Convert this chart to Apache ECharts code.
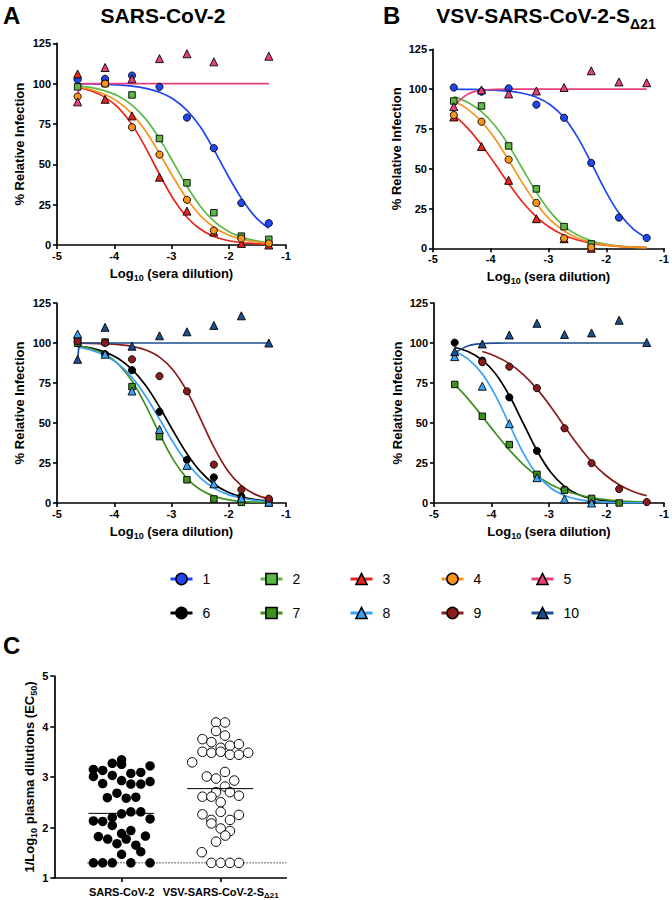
<!DOCTYPE html>
<html><head><meta charset="utf-8">
<script src="https://cdn.jsdelivr.net/npm/echarts@6/dist/echarts.min.js"></script>
<style>html,body{margin:0;padding:0;background:#fff}#c{width:672px;height:900px}</style>
</head><body><div id="c"></div>
<script>
// ---------- data ----------
const doseX = [-4.64, -4.16, -3.69, -3.21, -2.73, -2.26, -1.78, -1.30];
const fitX  = [-4.64, -4.4, -4.16, -3.93, -3.69, -3.45, -3.21, -2.97, -2.73, -2.5, -2.26, -2.02, -1.78, -1.54, -1.3];
const flatX = [-4.64, -4.62, -4.57, -1.30];

const sampleNames = ['1','2','3','4','5','6','7','8','9','10'];
const sampleColors = ['#1f45f5','#5cb946','#e8241d','#f7941d','#e8407f','#000000','#3f8f1f','#3aa3f5','#8b1c1c','#1c4f8f'];
const sampleSymbols = ['circle','rect','triangle','circle','triangle','circle','rect','triangle','circle','triangle'];

// Panel A top (SARS-CoV-2), samples 1-5
const aTopPts1 = [102.5, 103, 105, 98, 79, 60, 26, 13.5];
const aTopPts2 = [98, 100, 93, 66, 38.5, 20, 5.5, 3.5];
const aTopPts3 = [106, 90.3, 80, 42, 21, 8, 1, 0];
const aTopPts4 = [92, 100, 73, 56, 28, 9, 4, 1];
const aTopPts5 = [88.7, 110, 103, 115.5, 118.5, 113.5, null, 117];
const aTopFit1 = [99.9, 99.8, 99.6, 99.2, 98.5, 97.1, 94.7, 90.5, 83.4, 73.4, 59.1, 43.4, 29.0, 17.6, 10.3];
const aTopFit2 = [98.6, 97.5, 95.5, 92.3, 86.7, 78.0, 65.9, 51.3, 36.4, 24.2, 14.8, 8.7, 4.9, 2.7, 1.5];
const aTopFit3 = [97.6, 95.4, 91.5, 85.1, 74.6, 60.2, 43.8, 28.7, 17.2, 9.9, 5.3, 2.8, 1.5, 0.8, 0.4];
const aTopFit4 = [97.9, 96.2, 93.3, 88.7, 81.3, 70.5, 56.8, 42.0, 28.5, 18.4, 11.0, 6.4, 3.6, 2.0, 1.1];
const aTopFit5 = [88.7, 97, 100, 100];

// Panel A bottom, samples 6-10
const aLowPts6 = [103, 93, 83, 57, 27, 16, 4.2, 1.7];
const aLowPts7 = [99.8, 100.6, 72.7, 41.5, 14.5, 2.5, 0.4, 0];
const aLowPts8 = [105.6, 93, 70, 46, 23.5, 12, 3, 0.5];
const aLowPts9 = [101, 100, 89.8, 79.3, 69.8, 24, 8.3, 2.7];
const aLowPts10 = [89.8, 109.8, 98, 104.5, 107, 111, 117, 100];
const aLowFit6 = [98.3, 96.8, 94.3, 90.3, 83.5, 73.4, 60.0, 45.0, 30.8, 19.9, 11.9, 6.9, 3.9, 2.1, 1.2];
const aLowFit7 = [98.2, 96.4, 92.9, 86.8, 76.3, 61.0, 43.3, 27.1, 15.4, 8.4, 4.3, 2.1, 1.0, 0.5, 0.3];
const aLowFit8 = [97.5, 95.5, 92.1, 86.9, 78.5, 66.7, 52.5, 37.8, 25.1, 15.9, 9.4, 5.4, 3.1, 1.7, 0.9];
const aLowFit9 = [99.9, 99.8, 99.5, 99.0, 97.9, 95.6, 91.2, 83.0, 69.9, 53.1, 34.9, 20.3, 10.8, 5.4, 2.6];
const aLowFit10 = [89.8, 97, 100, 100];

// Panel B top (VSV-SARS-CoV-2-S d21), samples 1-5
const bTopPts1 = [101, 98.4, 100.5, 90.2, 82, 53.6, 19.3, 6.5];
const bTopPts2 = [92.5, 89.4, 64.3, 37.3, 13.6, 2.7, null, null];
const bTopPts3 = [82.5, 63.9, 42.7, 18.6, 6, 0, null, null];
const bTopPts4 = [83.7, 79.5, 55.7, 28.5, 6.3, 0.6, null, null];
const bTopPts5 = [89, 99.5, 97, 98.8, 101, 111.5, 104.5, 104];
const bTopFit1 = [99.9, 99.8, 99.7, 99.3, 98.7, 97.4, 94.9, 90.2, 82.1, 70.0, 53.7, 36.5, 22.1, 12.4, 6.5];
const bTopFit2 = [95.3, 91.7, 85.8, 77.1, 64.8, 50.0, 35.3, 22.9, 13.9, 8.3, 4.7, 2.6, 1.4, 0.8, 0.4];
const bTopFit3 = [83.6, 75.5, 64.9, 53.2, 40.7, 29.1, 19.8, 12.9, 8.2, 5.2, 3.2, 1.9, 1.2, 0.7, 0.4];
const bTopFit4 = [92.5, 87.4, 79.5, 69.0, 55.4, 41.0, 28.0, 17.9, 10.9, 6.5, 3.8, 2.1, 1.2, 0.7, 0.4];
const bTopFit5 = [89.5, 96.8, 99.3, 99.8, 100, 100, 100, 100, 100, 100, 100, 100, 100, 100, 100];

// Panel B bottom, samples 6-10
const bLowPts6 = [100.2, 89, 66, 32.6, 8.3, 0.5, null, null];
const bLowPts7 = [74.1, 54.2, 36.5, 17.9, 8, 2.9, 0, null];
const bLowPts8 = [91.5, 73, 49.6, 15.8, 2.5, 0, null, null];
const bLowPts9 = [null, 88, 85.2, 71.8, 46.7, 24.9, 8.7, 0.6];
const bLowPts10 = [94.6, 99.4, 105, 112.3, 105.3, 106.3, 114.2, 100.3];
const bLowFit6 = [97.2, 94.5, 89.3, 80.8, 67.2, 50.0, 32.8, 19.2, 10.4, 5.5, 2.8, 1.4, 0.7, 0.3, 0.2];
const bLowFit7 = [74.1, 64.8, 54.1, 43.6, 33.2, 24.2, 17.0, 11.6, 7.8, 5.3, 3.4, 2.2, 1.4, 0.9, 0.6];
const bLowFit8 = [94.9, 89.8, 80.7, 67.1, 49.2, 31.5, 17.9, 9.4, 4.7, 2.3, 1.1, 0.5, 0.3, 0.1, 0.1];
const bLowFit9 = [null, null, 94.7, 91.7, 87.1, 80.4, 71.3, 60.2, 47.9, 36.4, 25.8, 17.5, 11.4, 7.2, 4.5];
const bLowFit10 = [93.8, 98.3, 99.6, 99.9, 100, 100, 100, 100, 100, 100, 100, 100, 100, 100, 100];

// Panel C: EC50 scatter (x = jittered column position, y = value)
const cCategories = ['SARS-CoV-2', 'VSV-SARS-CoV-2-S'];
const cCatPos = [2.03, 5.02];
const cFilledX = [1.75,2.03,2.03,1.18,1.46,2.89, 1.18,1.75,2.31,2.61,1.46,2.03,2.31,2.61,2.89, 1.60,1.89,2.17,2.46,
  2.03,2.31,2.61,1.18,1.46,1.75,1.75,2.89, 1.33,1.61,1.89,2.03,2.17,2.31,2.46,2.75,2.61,2.03, 1.18,1.46,1.75,2.31,2.89];
const cFilledY = [3.27,3.34,3.25,3.15,3.13,3.22, 3.01,3.03,3.07,3.09,2.87,2.93,2.86,2.86,2.91, 2.59,2.68,2.58,2.60,
  2.27,2.31,2.31,2.13,2.12,2.20,2.04,2.17, 1.82,1.77,1.68,1.88,1.77,1.94,1.65,1.83,1.52,1.47, 1.3,1.3,1.3,1.3,1.3];
const cOpenX = [4.88,5.15,4.88,5.15,4.47,4.74,5.02,5.30,5.57,4.47,4.74,5.02,5.30,5.57,5.85,4.16,
  4.60,4.88,5.15,5.43,5.15,4.88,4.47,4.74,5.30,5.57,5.02,
  4.47,4.74,5.02,5.30,5.57,4.74,5.02,5.30,5.16,4.88,4.45, 4.74,5.02,5.30,5.57];
const cOpenY = [4.08,4.08,3.91,3.82,3.75,3.69,3.58,3.62,3.65,3.50,3.48,3.50,3.44,3.44,3.48,3.29,
  3.01,2.97,3.10,2.93,2.81,2.70,2.61,2.61,2.70,2.63,2.50,
  2.26,2.15,2.31,2.15,2.25,2.08,1.98,1.93,1.84,1.72,1.51, 1.3,1.3,1.3,1.3];
const cMeans = [2.28, 2.77];
const cMeanSpan = [[1.03, 3.01], [4.01, 6.0]];
const cLimit = 1.3;
const cLimitSpan = [1.0, 7.0];

// ---------- build ----------
const F = 'Liberation Sans, Arial, Helvetica, sans-serif';
function zip(xs, ys) { return xs.map((x, i) => [x, ys[i]]).filter(p => p[1] != null); }
function symSize(s) { return s === 'triangle' ? 8 : (s === 'rect' ? 6.5 : 7.2); }

const panels = [
  { g: 0, ids: [1,2,3,4,5], pts: [aTopPts1,aTopPts2,aTopPts3,aTopPts4,aTopPts5],
    fits: [aTopFit1,aTopFit2,aTopFit3,aTopFit4,aTopFit5], fx: [fitX,fitX,fitX,fitX,flatX] },
  { g: 1, ids: [1,2,3,4,5], pts: [bTopPts1,bTopPts2,bTopPts3,bTopPts4,bTopPts5],
    fits: [bTopFit1,bTopFit2,bTopFit3,bTopFit4,bTopFit5], fx: [fitX,fitX,fitX,fitX,fitX] },
  { g: 2, ids: [6,7,8,9,10], pts: [aLowPts6,aLowPts7,aLowPts8,aLowPts9,aLowPts10],
    fits: [aLowFit6,aLowFit7,aLowFit8,aLowFit9,aLowFit10], fx: [fitX,fitX,fitX,fitX,flatX] },
  { g: 3, ids: [6,7,8,9,10], pts: [bLowPts6,bLowPts7,bLowPts8,bLowPts9,bLowPts10],
    fits: [bLowFit6,bLowFit7,bLowFit8,bLowFit9,bLowFit10], fx: [fitX,fitX,fitX,fitX,fitX] }
];

const series = [];
// legend carrier series (first, so legend icons come from them)
sampleNames.forEach((n, i) => {
  series.push({ type: 'line', name: n, data: [], xAxisIndex: 0, yAxisIndex: 0,
    symbol: sampleSymbols[i], symbolSize: 10,
    itemStyle: { color: sampleColors[i], borderColor: '#000', borderWidth: 1.5 },
    lineStyle: { color: sampleColors[i], width: 3 } });
});
panels.forEach(p => {
  p.ids.forEach((id, k) => {
    const i = id - 1;
    const flat = p.fx[k] === flatX;
    series.push({ type: 'line', name: 'fit' + p.g + '-' + id, xAxisIndex: p.g, yAxisIndex: p.g,
      data: zip(p.fx[k], p.fits[k]), smooth: flat ? false : 0.35, showSymbol: false, symbol: 'none',
      lineStyle: { color: sampleColors[i], width: 1.7 }, z: 2, silent: true });
  });
  p.ids.forEach((id, k) => {
    const i = id - 1;
    series.push({ type: 'scatter', name: 'pts' + p.g + '-' + id, xAxisIndex: p.g, yAxisIndex: p.g,
      data: zip(doseX, p.pts[k]), symbol: sampleSymbols[i], symbolSize: symSize(sampleSymbols[i]),
      itemStyle: { color: sampleColors[i], borderColor: '#000', borderWidth: 0.9, opacity: 1 }, z: 3, silent: true });
  });
});
// panel C
series.push({ type: 'scatter', name: 'cFilled', xAxisIndex: 4, yAxisIndex: 4, data: zip(cFilledX, cFilledY),
  symbol: 'circle', symbolSize: 9.5, itemStyle: { color: '#000', opacity: 1 }, z: 3, silent: true });
series.push({ type: 'scatter', name: 'cOpen', xAxisIndex: 4, yAxisIndex: 4, data: zip(cOpenX, cOpenY),
  symbol: 'circle', symbolSize: 9.5, itemStyle: { color: '#fff', borderColor: '#000', borderWidth: 1, opacity: 1 }, z: 3, silent: true });
cMeans.forEach((m, i) => {
  series.push({ type: 'line', name: 'cMean' + i, xAxisIndex: 4, yAxisIndex: 4,
    data: [[cMeanSpan[i][0], m], [cMeanSpan[i][1], m]], symbol: 'none',
    lineStyle: { color: '#000', width: 1 }, z: 4, silent: true });
});
series.push({ type: 'line', name: 'cLimit', xAxisIndex: 4, yAxisIndex: 4,
  data: [[cLimitSpan[0], cLimit], [cLimitSpan[1], cLimit]], symbol: 'none',
  lineStyle: { color: '#000', width: 1, type: [1.2, 1.8] }, z: 1, silent: true });

const axLine = { onZero: false, lineStyle: { color: '#000', width: 1.7 } };
const axTick = { length: 4, lineStyle: { color: '#000', width: 1.6 } };
const axLab = { color: '#000', fontSize: 11, fontWeight: 'bold', fontFamily: F };
const nameRich = {
  m: { fontSize: 13, fontWeight: 'bold', fontFamily: F, color: '#000', lineHeight: 18 },
  s: { fontSize: 9, fontWeight: 'bold', fontFamily: F, color: '#000', lineHeight: 9, verticalAlign: 'bottom' }
};

const grids = [
  { left: 57, top: 43.3, width: 229, height: 201.7 },
  { left: 433, top: 49.3, width: 231, height: 199 },
  { left: 57, top: 303, width: 229, height: 200 },
  { left: 434, top: 303, width: 230, height: 200 },
  { left: 54.3, top: 676, width: 232, height: 202 }
].map(g => Object.assign({ outerBoundsMode: 'none', containLabel: false }, g));

const xAxes = [0,1,2,3].map(g => ({
  gridIndex: g, type: 'value', min: -5, max: -1, interval: 1,
  name: '{m|Log}{s|10}{m| (sera dilution)}', nameLocation: 'middle', nameGap: 19,
  nameTextStyle: { rich: nameRich },
  axisLine: axLine, axisTick: axTick, axisLabel: Object.assign({ margin: 5 }, axLab), splitLine: { show: false }
}));
xAxes.push({
  gridIndex: 4, type: 'value', min: 0, max: 7,
  axisLine: axLine,
  axisTick: Object.assign({ customValues: cCatPos }, axTick),
  axisLabel: Object.assign({ margin: 6, customValues: cCatPos,
    formatter: v => v < 3.5 ? '{m|' + cCategories[0] + '}' : '{m|' + cCategories[1] + '}{s|Δ21}',
    rich: {
      m: { fontSize: 11, fontWeight: 'bold', fontFamily: F, color: '#000', lineHeight: 15 },
      s: { fontSize: 8, fontWeight: 'bold', fontFamily: F, color: '#000', lineHeight: 8, verticalAlign: 'bottom' }
    } }, axLab),
  splitLine: { show: false }
});

const yAxes = [0,1,2,3].map(g => ({
  gridIndex: g, type: 'value', min: 0, max: 125, interval: 25,
  name: '% Relative Infection', nameLocation: 'middle', nameGap: (g % 2 === 0) ? 31 : 30,
  nameTextStyle: { fontSize: 13, fontWeight: 'bold', fontFamily: F, color: '#000' },
  axisLine: axLine, axisTick: axTick, axisLabel: Object.assign({ margin: 6 }, axLab), splitLine: { show: false }
}));
yAxes.push({
  gridIndex: 4, type: 'value', min: 1, max: 5, interval: 1,
  name: '{m|1/Log}{s|10}{m| plasma dilutions (EC}{s|50}{m|)}', nameLocation: 'middle', nameGap: 13,
  nameTextStyle: { rich: nameRich },
  axisLine: axLine, axisTick: axTick, axisLabel: Object.assign({ margin: 6 }, axLab), splitLine: { show: false }
});

const legLeft = [169, 259, 349, 440, 530];
const legTop = [572, 606];
const legends = sampleNames.map((n, i) => ({
  data: [n], left: legLeft[i % 5], top: legTop[Math.floor(i / 5)], orient: 'horizontal',
  itemWidth: 22, itemHeight: 14, selectedMode: false, padding: 0,
  itemStyle: { borderColor: '#000', borderWidth: 1.5 }, lineStyle: { width: 3 },
  textStyle: { fontSize: 14, color: '#000', fontFamily: F, padding: [0, 0, 0, 5] }
}));

const tstyle = (extra) => Object.assign({ fontFamily: F, fontWeight: 'bold', fill: '#000', verticalAlign: 'middle' }, extra);
const graphic = [
  { type: 'text', x: 3, y: 15, style: tstyle({ text: 'A', fontSize: 24, align: 'left' }) },
  { type: 'text', x: 163, y: 15.5, style: tstyle({ text: 'SARS-CoV-2', fontSize: 21, align: 'center' }) },
  { type: 'text', x: 383, y: 15.5, style: tstyle({ text: 'B', fontSize: 24, align: 'left' }) },
  { type: 'text', x: 546, y: 15.5, style: tstyle({ text: '{m|VSV-SARS-CoV-2-S}{s|Δ21}', align: 'center',
      rich: { m: { fontSize: 21, fontWeight: 'bold', fontFamily: F, fill: '#000', lineHeight: 30 },
              s: { fontSize: 14, fontWeight: 'bold', fontFamily: F, fill: '#000', lineHeight: 14, verticalAlign: 'bottom' } } }) },
  { type: 'text', x: 3, y: 645, style: tstyle({ text: 'C', fontSize: 24, align: 'left' }) }
];

const chart = echarts.init(document.getElementById('c'), null, { renderer: 'svg', width: 672, height: 900 });
chart.setOption({
  animation: false,
  backgroundColor: '#fff',
  grid: grids, xAxis: xAxes, yAxis: yAxes,
  legend: legends, graphic: graphic, series: series
});
</script>
</body></html>
